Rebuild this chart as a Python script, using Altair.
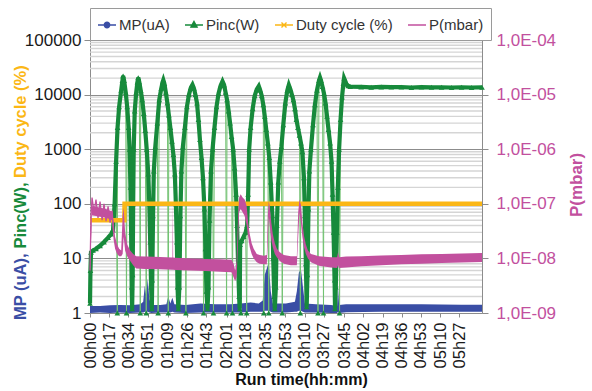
import altair as alt
import pandas as pd

FONT = "Liberation Sans, Arial, sans-serif"

SERIES = ["MP(uA)", "Pinc(W)", "Duty cycle (%)", "P(mbar)"]
BLUE = "#3a4ea5"
GREEN = "#178a3b"
LIGHT_GREEN = "#72c272"
ORANGE = "#fbb716"
PINK = "#c2509e"
COLORS = [BLUE, GREEN, ORANGE, PINK]
# legend glyphs: a short line with the series marker in its middle
LEGEND_SHAPES = [
    "M-1,0H1M0.3,0A0.3,0.3,0,1,1,-0.3,0A0.3,0.3,0,1,1,0.3,0Z",
    "M-1,0H1M0,-0.38L0.34,0.24L-0.34,0.24Z",
    "M-1,0H1M-0.28,-0.28L0.28,0.28M-0.28,0.28L0.28,-0.28",
    "M-1,0H1M-0.3,0H0.3",
]

# Run time in minutes; labelled every ~17 min as hh"h"mm
X_TICKS = [0, 17, 34, 51, 69, 86, 103, 121, 138, 155, 173, 190, 207, 225,
           242, 259, 276, 293, 310, 327]
LEFT_TICKS = [1, 10, 100, 1000, 10000, 100000]
RIGHT_TICKS = [1e-9, 1e-8, 1e-7, 1e-6, 1e-5, 1e-4]
MINOR_GRID = [2, 3, 4, 5, 6, 7, 8, 9,
              20, 30, 40, 50, 60, 70, 80, 90,
              200, 300, 400, 500, 600, 700, 800, 900,
              2000, 3000, 4000, 5000, 6000, 7000, 8000, 9000,
              20000, 30000, 40000, 50000, 60000, 70000, 80000, 90000]

# MP (uA): envelope of the noisy reading
MP_T = [0, 8.9, 17.8, 26.7, 35.6, 44.5, 47.1, 48.5, 49.8, 51.1, 52.5, 54.2,
        62.2, 67.6, 69.3, 71.1, 72.9, 74.7, 84.5, 97.8, 111.1, 124.5, 133.4,
        142.2, 149.4, 152.9, 154.7, 156.5, 158.2, 160.0, 161.8, 173.4, 181.4,
        183.1, 184.9, 186.7, 188.5, 190.2, 200.0, 213.4, 218.7, 219.6, 220.5,
        226.7, 257.8, 293.4, 328.9, 347.0]
MP_LO = [1.0, 1.02, 1.0, 1.02, 1.0, 1.02, 1.02, 1.05, 1.05, 1.05, 1.02, 1.0,
         1.02, 1.02, 1.05, 1.02, 1.05, 1.02, 1.0, 1.02, 1.02, 1.02, 1.02,
         1.05, 1.05, 1.05, 1.1, 1.1, 1.1, 1.05, 1.02, 1.02, 1.05,
         1.05, 1.1, 1.1, 1.05, 1.02, 1.02, 1.0, 1.0, 1.05, 1.0,
         1.03, 1.05, 1.05, 1.05, 1.05]
MP_HI = [1.35, 1.35, 1.38, 1.4, 1.38, 1.45, 1.6, 3.2, 2.0, 4.3, 1.8, 1.4,
         1.4, 1.45, 2.0, 1.5, 1.9, 1.45, 1.4, 1.5, 1.45, 1.45, 1.5,
         1.55, 1.5, 1.7, 5.0, 6.5, 8.5, 2.5, 1.5, 1.5, 1.6,
         2.5, 5.5, 6.3, 3.0, 1.5, 1.45, 1.4, 1.35, 2.9, 1.4,
         1.45, 1.45, 1.45, 1.42, 1.42]

# Pinc (W)
PINC_T = [0, 0.4, 0.9, 2.7, 5.3, 8.9, 12.4, 16.0, 18.7,
          20.4, 21.8, 23.1, 24.4, 25.8, 27.6, 28.7, 29.3, 30.2, 31.6, 32.9, 34.2, 35.1, 35.8, 36.4, 36.9, 37.3,
          37.8, 38.2, 38.7, 39.6, 40.9, 42.0, 42.7, 43.6, 44.9, 46.2, 47.6, 48.9, 50.2, 51.6, 52.5, 53.3, 54.1, 54.7,
          55.1, 55.8, 56.5, 57.8, 59.6, 61.3, 63.1, 64.3, 64.9, 65.8, 67.1, 68.5, 69.8, 71.1, 72.5, 73.8, 75.1, 76.0, 76.9, 77.5, 78.2,
          79.1, 80.0, 80.9, 82.2, 84.0, 85.8, 87.6, 89.3, 90.7, 92.0, 93.3, 94.7, 96.0, 97.3, 98.7, 100.0, 101.3, 102.2, 103.1, 104.0,
          104.9, 105.8, 107.1, 108.5, 110.2, 112.0, 113.8, 115.6, 117.3, 118.7, 120.0, 121.3, 122.7, 124.0, 125.3, 126.7, 128.0, 129.3, 130.2, 131.1, 132.0, 132.5,
          132.9, 134.2, 136.0, 137.8, 139.1, 140.0, 140.9, 142.2, 144.0, 145.8, 147.6, 149.4, 150.7, 152.0, 153.4, 154.7, 156.0, 157.4, 158.7, 160.0, 161.4, 162.2, 163.1, 163.6,
          164.5, 165.4, 166.7, 168.0, 169.4, 171.1, 172.9, 174.7, 176.0, 177.4, 178.7, 180.0, 181.4, 182.7, 184.0, 185.4, 186.7, 188.0, 189.4, 190.2, 191.1, 191.8,
          192.5, 193.4, 194.2, 195.6, 197.4, 199.1, 200.9, 202.7, 203.6, 204.5, 205.8, 207.1, 208.5, 209.8, 211.1, 212.5, 213.8, 214.7, 215.6, 216.5, 216.9,
          217.6, 218.5, 219.4, 220.5, 221.8, 223.1, 224.3, 224.9, 225.8, 227.1, 228.5, 230.3,
          240.0, 248.9, 257.8, 266.7, 275.6, 284.5, 293.4, 302.3, 311.2, 320.1, 328.9, 337.8, 347.0]
PINC_V = [1.5, 6, 13, 14, 15, 17, 20, 24, 28,
          33, 100, 600, 2500, 6000, 12000, 18000, 22000, 18000, 11000, 6000, 2500, 1000, 200, 30, 3, 1.2,
          5, 100, 1000, 5000, 11000, 17000, 20500, 17000, 12000, 8000, 4500, 2200, 1000, 350, 100, 20, 3, 1.2,
          4, 60, 400, 1100, 3000, 8000, 13000, 17000, 18500, 16000, 11000, 7000, 4200, 2500, 1400, 800, 350, 100, 20, 3, 1.2,
          3, 60, 400, 1100, 2500, 6000, 10000, 13500, 15200, 13000, 10000, 7000, 3500, 1500, 700, 300, 80, 15, 2.5, 1.2,
          3, 50, 400, 1000, 2500, 6000, 10500, 14500, 17500, 15000, 11000, 8000, 5000, 3000, 1700, 1000, 450, 150, 40, 8, 2, 1.2,
          18, 21, 25, 30, 40, 150, 1000, 2500, 5500, 9500, 12500, 14300, 12000, 9500, 6500, 4000, 2300, 1300, 700, 250, 60, 10, 2, 1.2,
          3, 40, 250, 600, 1100, 2800, 7000, 12000, 15000, 12500, 10000, 8000, 5500, 3500, 2500, 1800, 1300, 900, 300, 60, 8, 1.3,
          5, 80, 400, 1000, 2800, 6500, 12000, 18000, 20500, 18000, 14000, 10500, 7000, 4000, 2300, 1300, 600, 150, 30, 4, 1.2,
          3, 30, 200, 1000, 3500, 9000, 16000, 20000, 18000, 15500, 14500, 14000,
          13800, 13600, 13800, 13700, 13700, 13500, 13700, 13600, 13600, 13500, 13600, 13500, 13600]
# momentary drop-outs of Pinc
DROP_T = [24.2, 32.3, 44.5, 49.8, 60.3, 69.3, 84.9, 100.5, 109.3, 120.9,
          126.1, 133.6, 138.7, 153.8, 158.2, 170.2, 186.2, 201.8, 206.7, 220.9]
DROP_V = [1, 1, 1, 1, 1, 1, 1, 1, 1, 1,
          1, 1, 1, 1, 1, 1, 1, 1, 1, 1]

# Duty cycle (%)
DUTY_T = [0, 30.4, 30.6, 347.0]
DUTY_V = [50, 50, 100, 100]

# P (mbar): envelope of the noisy reading
P_T = [0, 0.9, 1.8, 5.3, 8.9, 12.4, 16.0, 19.6, 20.9, 22.2, 24.0, 25.8, 27.6,
       28.9, 29.8, 31.1, 32.9, 35.6, 38.2, 40.9, 48.9, 49.5, 49.8, 50.1, 62.2,
       73.0, 73.3, 73.6, 75.6, 88.9, 102.2, 115.6, 125.3,
       127.1, 128.5, 129.8, 131.1, 132.0, 133.4, 135.1, 136.9, 138.7, 140.0,
       141.4, 143.1, 144.9, 147.6, 150.2, 153.8, 156.5, 157.4, 158.2, 159.1,
       160.5, 161.8, 163.6, 165.4, 168.0, 171.6, 177.8, 183.1, 184.3, 185.4,
       186.7, 188.0, 189.4, 191.1, 192.9, 195.6, 202.7, 213.4, 218.7, 219.6,
       220.5, 226.7, 240.0, 257.8, 275.6, 293.4, 311.2, 328.9, 347.0]
P_LO = [5e-9, 2.0e-8, 6.2e-8, 6.0e-8, 5.8e-8, 5.6e-8, 5.4e-8, 5.0e-8, 2.2e-8, 1.5e-8, 1.2e-8, 1.1e-8, 1.1e-8,
        1.2e-8, 2.5e-8, 1.4e-8, 1.1e-8, 9e-9, 7.5e-9, 6.5e-9, 6.4e-9, 6.4e-9, 6.4e-9, 6.4e-9, 6.3e-9,
        6.2e-9, 6.2e-9, 6.2e-9, 6.1e-9, 6.0e-9, 5.9e-9, 5.7e-9, 5.6e-9,
        4.5e-9, 3.8e-9, 4.5e-9, 2.0e-8, 7.0e-8, 8.0e-8, 7.0e-8, 6.0e-8, 4.0e-8, 2.5e-8,
        1.6e-8, 1.2e-8, 1.0e-8, 8.5e-9, 8.0e-9, 7.8e-9, 7.8e-9, 2.0e-8, 6.0e-8, 4.0e-8,
        2.2e-8, 1.6e-8, 1.2e-8, 1.05e-8, 9e-9, 8e-9, 7.5e-9, 7.5e-9, 2.5e-8, 7.0e-8,
        4.5e-8, 2.5e-8, 1.6e-8, 1.2e-8, 1.0e-8, 8.5e-9, 7.3e-9, 6.8e-9, 6.7e-9, 7.5e-9,
        6.7e-9, 6.8e-9, 7.2e-9, 7.5e-9, 7.8e-9, 8.0e-9, 8.2e-9, 8.4e-9, 8.6e-9]
P_HI = [7e-9, 4.0e-8, 9.0e-8, 8.8e-8, 8.5e-8, 8.2e-8, 7.8e-8, 7.2e-8, 4.5e-8, 2.5e-8, 1.8e-8, 1.5e-8, 1.4e-8,
        6.0e-8, 8.5e-8, 3.0e-8, 1.8e-8, 1.4e-8, 1.2e-8, 1.1e-8, 1.08e-8, 1.08e-8, 1.0e-7, 1.08e-8, 1.06e-8,
        1.04e-8, 1.0e-7, 1.04e-8, 1.03e-8, 1.0e-8, 9.8e-9, 9.6e-9, 9.4e-9,
        8e-9, 6e-9, 9e-9, 6.0e-8, 1.3e-7, 1.5e-7, 1.3e-7, 1.2e-7, 9.0e-8, 4.5e-8,
        2.8e-8, 1.9e-8, 1.5e-8, 1.2e-8, 1.15e-8, 1.12e-8, 1.15e-8, 6.0e-8, 1.1e-7, 9.0e-8,
        4.5e-8, 2.8e-8, 1.9e-8, 1.5e-8, 1.3e-8, 1.15e-8, 1.1e-8, 1.1e-8, 7.0e-8, 1.2e-7,
        9.5e-8, 4.5e-8, 2.6e-8, 1.8e-8, 1.4e-8, 1.2e-8, 1.1e-8, 1.05e-8, 1.05e-8, 1.3e-8,
        1.05e-8, 1.08e-8, 1.1e-8, 1.13e-8, 1.16e-8, 1.19e-8, 1.21e-8, 1.23e-8, 1.25e-8]
# pressure swings during the first minutes
PZ_T = [0, 0.9, 1.8, 3.6, 5.3, 7.1, 8.9, 10.7, 12.4, 14.2, 16.0, 17.8, 19.6, 20.9]
PZ_V = [6e-9, 6e-8, 1.3e-7, 7e-8, 1.2e-7, 5.5e-8, 1.1e-7, 5e-8, 1.0e-7, 4.8e-8,
        9e-8, 4.5e-8, 7.5e-8, 3e-8]

LEFT_TITLE = [("MP (uA), ", BLUE, 280), ("Pinc(W), ", GREEN, 208.5),
              ("Duty cycle (%)", ORANGE, 138)]

mp_df = pd.DataFrame({"t": MP_T, "lo": MP_LO, "hi": MP_HI, "series": "MP(uA)"})
pinc_df = pd.DataFrame({"t": PINC_T, "v": PINC_V, "series": "Pinc(W)"})
drop_df = pd.DataFrame({"t": DROP_T, "v": DROP_V, "series": "Pinc(W)"})
pinc_all = pd.concat([pinc_df, drop_df]).sort_values("t").reset_index(drop=True)
duty_df = pd.DataFrame({"t": DUTY_T, "v": DUTY_V, "series": "Duty cycle (%)"})
p_df = pd.DataFrame({"t": P_T, "lo": P_LO, "hi": P_HI, "series": "P(mbar)"})
pz_df = pd.DataFrame({"t": PZ_T, "v": PZ_V, "series": "P(mbar)"})
grid_df = pd.DataFrame({"g": MINOR_GRID})
key_df = pd.DataFrame({"series": SERIES})
one = pd.DataFrame({"k": [0]})

x_scale = alt.Scale(domain=[0, 347], nice=False, zero=False)
y_scale = alt.Scale(type="log", domain=[1, 100000], nice=False)
p_scale = alt.Scale(type="log", domain=[1e-9, 1e-4], nice=False)
color_scale = alt.Scale(domain=SERIES, range=COLORS)

AXIS_GREY = "#8c8c8c"
x_axis = alt.Axis(
    values=X_TICKS, title=None, grid=False, labelAngle=270, labelFontSize=16.5,
    labelColor="#1a1a1a", labelPadding=5, tickSize=4, tickColor=AXIS_GREY,
    domainColor=AXIS_GREY, labelOverlap=False,
    labelExpr="(floor(datum.value/60) < 10 ? '0' : '') + floor(datum.value/60) + 'h' + "
              "(datum.value % 60 < 10 ? '0' : '') + (datum.value % 60)",
)
y_axis = alt.Axis(
    values=LEFT_TICKS, format="d", title=None, grid=True, gridColor=AXIS_GREY,
    labelFontSize=17, labelColor="#1a1a1a", labelPadding=3, tickSize=6,
    tickColor=AXIS_GREY, domainColor=AXIS_GREY, labelOverlap=False,
)
p_axis = alt.Axis(
    orient="right", values=RIGHT_TICKS, title=None, grid=False,
    labelExpr="'1,0E-0' + round(-log(datum.value) / LN10)",
    labelFontSize=17, labelColor=PINK, labelPadding=8, tickSize=6,
    tickColor=AXIS_GREY, domainColor=AXIS_GREY, labelOverlap=False,
)

legend = alt.Legend(
    title=None, orient="none", legendX=0, legendY=-32, direction="horizontal",
    columns=4, fillColor="white", strokeColor="#9a9a9a", padding=7,
    columnPadding=12, labelFontSize=15, labelFont=FONT, labelColor="#333333",
    labelOffset=2, symbolSize=324, symbolStrokeWidth=1.4, symbolOpacity=1,
)
color = alt.Color("series:N", scale=color_scale, legend=None)
X = alt.X("t:Q", scale=x_scale, axis=x_axis)

# key entries for the legend box (markers themselves are transparent)
key = alt.Chart(key_df).mark_point(filled=False, opacity=0).encode(
    x=alt.value(0), y=alt.value(0),
    color=alt.Color("series:N", scale=color_scale, legend=legend),
    shape=alt.Shape("series:N", scale=alt.Scale(domain=SERIES, range=LEGEND_SHAPES), legend=legend),
)
minor = alt.Chart(grid_df).mark_rule(color="#d5d5d5", strokeWidth=1.4).encode(
    y=alt.Y("g:Q", scale=y_scale, axis=y_axis)
)
mp_area = alt.Chart(mp_df).mark_area(opacity=1).encode(
    x=X, y=alt.Y("lo:Q", scale=y_scale, axis=y_axis), y2="hi:Q", color=color
)
pinc_thin = alt.Chart(pinc_all).mark_line(color=LIGHT_GREEN, strokeWidth=1).encode(
    x=X, y=alt.Y("v:Q", scale=y_scale, axis=y_axis)
)
pinc_thick = alt.Chart(pinc_df).mark_line(strokeWidth=4.2).encode(
    x=X, y=alt.Y("v:Q", scale=y_scale, axis=y_axis), color=color
)
pinc_pts = alt.Chart(pinc_all).mark_point(shape="triangle-up", filled=True, size=32, opacity=1).encode(
    x=X, y=alt.Y("v:Q", scale=y_scale, axis=y_axis), color=color
)
duty = alt.Chart(duty_df).mark_line(strokeWidth=4.5).encode(
    x=X, y=alt.Y("v:Q", scale=y_scale, axis=y_axis), color=color
)

title_parts = [
    alt.Chart(one).mark_text(text=txt, color=col, angle=270, align="left", baseline="middle",
                             fontSize=16.5, fontWeight="bold", font=FONT).encode(
        x=alt.value(-69), y=alt.value(ypos))
    for txt, col, ypos in LEFT_TITLE
]
x_title = alt.Chart(one).mark_text(text="Run time(hh:mm)", align="center", baseline="alphabetic",
                                   fontSize=16, fontWeight="bold", font=FONT, color="#111111").encode(
    x=alt.value(211.5), y=alt.value(345))

left = alt.layer(key, minor, mp_area, pinc_thin, pinc_thick, pinc_pts, duty, *title_parts, x_title)

p_area = alt.Chart(p_df).mark_area(opacity=1).encode(
    x=X, y=alt.Y("lo:Q", scale=p_scale, axis=p_axis), y2="hi:Q", color=color
)
p_swing = alt.Chart(pz_df).mark_line(strokeWidth=1.3).encode(
    x=X, y=alt.Y("v:Q", scale=p_scale, axis=p_axis), color=color
)
p_title = alt.Chart(one).mark_text(text="P(mbar)", color=PINK, angle=270, align="center",
                                   baseline="middle", fontSize=17, fontWeight="bold", font=FONT).encode(
    x=alt.value(486.5), y=alt.value(145))
right = alt.layer(p_area, p_swing, p_title)

chart = (
    alt.layer(left, right)
    .resolve_scale(y="independent")
    .properties(
        width=392, height=273,
        autosize=alt.AutoSizeParams(type="none"),
        padding={"left": 90, "top": 40, "right": 110, "bottom": 78},
        background="white",
    )
    .configure(font=FONT)
    .configure_view(strokeWidth=0)
)

chart.save("out.html", embed_options={"renderer": "svg", "actions": False})
